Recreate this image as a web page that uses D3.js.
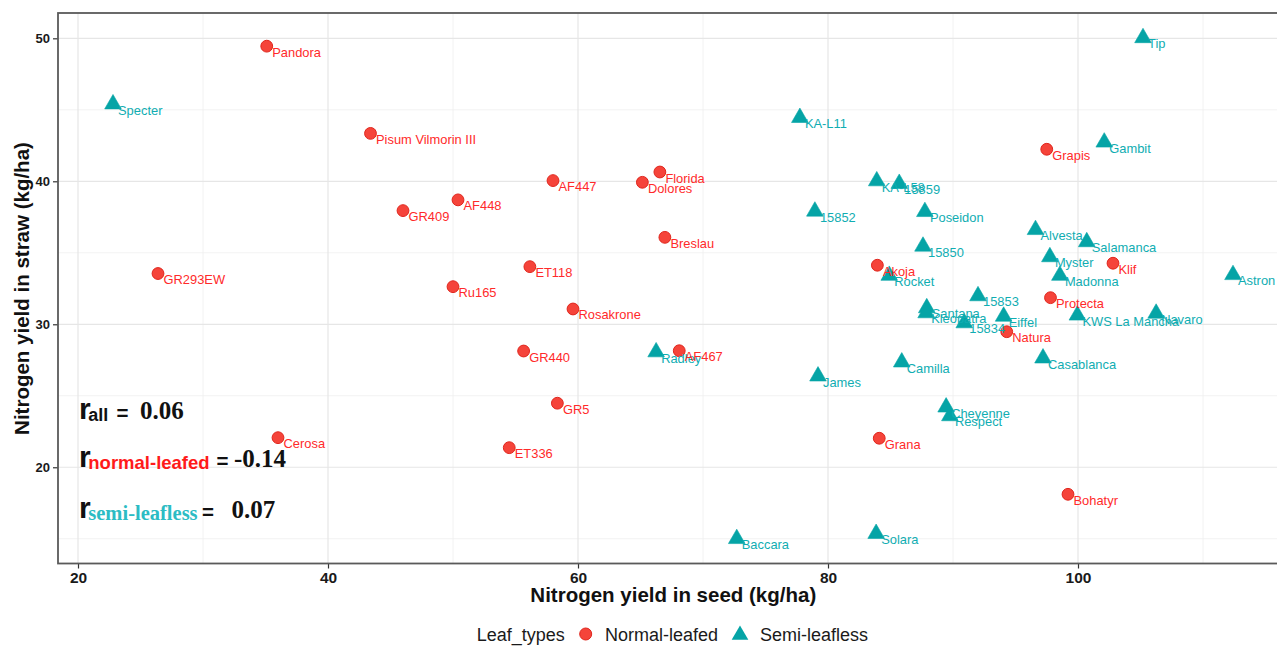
<!DOCTYPE html>
<html>
<head>
<meta charset="utf-8">
<script src="https://cdn.jsdelivr.net/npm/d3@7"></script>
<style>
  html, body { margin: 0; padding: 0; background: #fff; }
  svg { display: block; }
</style>
</head>
<body>
<svg id="chart" width="1277" height="646"></svg>
<script>
// Normal-leafed varieties: nitrogen yield in seed (x) and straw (y), kg/ha
const normalNames = ["Pandora", "Pisum Vilmorin III", "GR293EW", "GR409", "AF448", "AF447",
  "Florida", "Dolores", "Breslau", "ET118", "Ru165", "Rosakrone", "GR440", "AF467", "GR5",
  "ET336", "Cerosa", "Grapis", "Akoja", "Klif", "Protecta", "Natura", "Grana", "Bohatyr"];
const normalSeed = [35.1, 43.4, 26.4, 46.0, 50.4, 58.0, 66.55, 65.15, 66.95, 56.15, 50.0, 59.6,
  55.65, 68.1, 58.35, 54.5, 36.0, 97.5, 83.95, 102.8, 97.8, 94.3, 84.1, 99.2];
const normalStraw = [49.45, 43.35, 33.55, 37.95, 38.7, 40.05, 40.65, 39.93, 36.08, 34.03, 32.63,
  31.07, 28.13, 28.15, 24.48, 21.37, 22.07, 42.24, 34.13, 34.27, 31.86, 29.48, 22.03, 18.11];

// Semi-leafless varieties
const semiNames = ["Specter", "KA-L11", "15852", "Tip", "Gambit", "KA-L58", "15859", "Poseidon",
  "Alvesta", "Salamanca", "15850", "Myster", "Madonna", "Astron", "Rocket", "15853", "Santana",
  "Kleopatra", "Eiffel", "15834", "KWS La Mancha", "Navaro", "Casablanca", "Camilla", "Cheyenne",
  "Respect", "Solara", "Baccara", "Radley", "James"];
const semiSeed = [22.8, 77.75, 78.95, 105.2, 102.1, 83.9, 85.7, 87.75, 96.6, 100.7, 87.6, 97.75,
  98.55, 112.4, 84.9, 92.0, 87.9, 87.85, 94.05, 90.9, 99.95, 106.25, 97.2, 85.9, 89.45, 89.75,
  83.85, 72.7, 66.25, 79.2];
const semiStraw = [45.4, 44.45, 37.9, 50.03, 42.73, 40.02, 39.84, 37.87, 36.61, 35.76, 35.45,
  34.71, 33.41, 33.46, 33.41, 31.98, 31.14, 30.79, 30.55, 30.09, 30.63, 30.76, 27.63, 27.35,
  24.2, 23.59, 15.36, 15.0, 28.06, 26.37];

// Axis ticks
const xTicks = [20, 40, 60, 80, 100];
const xMinor = [30, 50, 70, 90, 110];
const yTicks = [20, 30, 40, 50];
const yMinor = [15, 25, 35, 45];

// Correlation coefficients
const corrGroups = ["all", "normal-leafed", "semi-leafless"];
const corrValues = ["0.06", "-0.14", "0.07"];

// Legend
const legendTitle = "Leaf_types";
const legendLabels = ["Normal-leafed", "Semi-leafless"];

const normal = normalNames.map((n, i) => ({ name: n, x: normalSeed[i], y: normalStraw[i] }));
const semi = semiNames.map((n, i) => ({ name: n, x: semiSeed[i], y: semiStraw[i] }));

const RED = "#f5443a", RED_STROKE = "#e0261d", RED_TEXT = "#ff2a2a";
const TEAL = "#05a4a6", TEAL_TEXT = "#10adb2";

const svg = d3.select("#chart");
const panel = { left: 58, top: 13, right: 1288, bottom: 563.5 };

const x = d3.scaleLinear().domain([18.4, 116.8]).range([panel.left, panel.right]);
const y = d3.scaleLinear().domain([13.27, 51.77]).range([panel.bottom, panel.top]);

svg.append("defs").append("clipPath").attr("id", "panel-clip")
  .append("rect").attr("x", panel.left).attr("y", panel.top)
  .attr("width", panel.right - panel.left).attr("height", panel.bottom - panel.top);

const grid = svg.append("g");
// minor grid
grid.selectAll("line.vmin").data(xMinor).join("line")
  .attr("x1", d => x(d)).attr("x2", d => x(d))
  .attr("y1", panel.top).attr("y2", panel.bottom)
  .attr("stroke", "#efefef").attr("stroke-width", 0.8);
grid.selectAll("line.hmin").data(yMinor).join("line")
  .attr("y1", d => y(d)).attr("y2", d => y(d))
  .attr("x1", panel.left).attr("x2", panel.right)
  .attr("stroke", "#efefef").attr("stroke-width", 0.8);
// major grid
grid.selectAll("line.vmaj").data(xTicks).join("line")
  .attr("x1", d => x(d)).attr("x2", d => x(d))
  .attr("y1", panel.top).attr("y2", panel.bottom)
  .attr("stroke", "#e6e6e6").attr("stroke-width", 1.2);
grid.selectAll("line.hmaj").data(yTicks).join("line")
  .attr("y1", d => y(d)).attr("y2", d => y(d))
  .attr("x1", panel.left).attr("x2", panel.right)
  .attr("stroke", "#e6e6e6").attr("stroke-width", 1.2);

// axes
const xAxis = d3.axisBottom(x).tickValues(xTicks).tickSize(5).tickPadding(3);
const yAxis = d3.axisLeft(y).tickValues(yTicks).tickSize(5).tickPadding(3);

const gx = svg.append("g").attr("transform", `translate(0,${panel.bottom})`).call(xAxis);
gx.select(".domain").remove();
gx.selectAll(".tick line").attr("stroke", "#333").attr("stroke-width", 1.2);
gx.selectAll(".tick text").attr("font-family", "Liberation Sans, Arial, sans-serif")
  .attr("font-weight", "bold").attr("font-size", 15.5).attr("fill", "#1a1a1a").attr("dy", "0.72em");

const gy = svg.append("g").attr("transform", `translate(${panel.left},0)`).call(yAxis);
gy.select(".domain").remove();
gy.selectAll(".tick line").attr("stroke", "#333").attr("stroke-width", 1.2);
gy.selectAll(".tick text").attr("font-family", "Liberation Sans, Arial, sans-serif")
  .attr("font-weight", "bold").attr("font-size", 13).attr("fill", "#1a1a1a");

// points
const plot = svg.append("g").attr("clip-path", "url(#panel-clip)");
const tri = d3.symbol().type(d3.symbolTriangle).size(120);

plot.selectAll("path.semi").data(semi).join("path")
  .attr("transform", d => `translate(${x(d.x)},${y(d.y)})`)
  .attr("d", tri).attr("fill", TEAL).attr("stroke", TEAL).attr("stroke-width", 0.6)
  .attr("stroke-linejoin", "round");

plot.selectAll("circle.normal").data(normal).join("circle")
  .attr("cx", d => x(d.x)).attr("cy", d => y(d.y)).attr("r", 5.9)
  .attr("fill", RED).attr("stroke", RED_STROKE).attr("stroke-width", 1);

// labels
const labelFont = "Liberation Sans, Arial, sans-serif";
plot.selectAll("text.semi").data(semi).join("text")
  .attr("x", d => x(d.x) + 5).attr("y", d => y(d.y) + 10.5)
  .attr("font-family", labelFont).attr("font-size", 12.9).attr("fill", TEAL_TEXT)
  .text(d => d.name);
plot.selectAll("text.normal").data(normal).join("text")
  .attr("x", d => x(d.x) + 5.5).attr("y", d => y(d.y) + 10.5)
  .attr("font-family", labelFont).attr("font-size", 12.9).attr("fill", RED_TEXT)
  .text(d => d.name);

// panel border
svg.append("rect").attr("x", panel.left).attr("y", panel.top)
  .attr("width", panel.right - panel.left).attr("height", panel.bottom - panel.top)
  .attr("fill", "none").attr("stroke", "#5a5a5a").attr("stroke-width", 1.8);

// axis titles
svg.append("text").attr("x", 673.3).attr("y", 601.7).attr("text-anchor", "middle")
  .attr("font-family", labelFont).attr("font-weight", "bold").attr("font-size", 20.5)
  .attr("fill", "#111").text("Nitrogen yield in seed (kg/ha)");
svg.append("text").attr("transform", "translate(29,288.5) rotate(-90)").attr("text-anchor", "middle")
  .attr("font-family", labelFont).attr("font-weight", "bold").attr("font-size", 20.5)
  .attr("fill", "#111").text("Nitrogen yield in straw (kg/ha)");

// correlation annotations
const ann = svg.append("g");
const annRows = [
  { base: 418.5, subColor: "#111", subFont: labelFont, subSize: 18, eqX: 116.5, valX: 140 },
  { base: 467, subColor: "#ff1a1a", subFont: labelFont, subSize: 18.5, eqX: 216.5, valX: 234 },
  { base: 517.5, subColor: "#2cbcc4", subFont: "Liberation Serif, Times New Roman, serif", subSize: 20.5, eqX: 202, valX: 231.5 }
];
annRows.forEach((row, i) => {
  const t = ann.append("text").attr("x", 79).attr("y", row.base)
    .attr("font-family", labelFont).attr("font-weight", "bold");
  t.append("tspan").attr("font-size", 30).attr("fill", "#111").text("r");
  t.append("tspan").attr("x", 88.3).attr("dy", 2).attr("font-family", row.subFont)
    .attr("font-size", row.subSize).attr("fill", row.subColor).text(corrGroups[i]);
  ann.append("text").attr("x", row.eqX).attr("y", row.base + 1)
    .attr("font-family", labelFont).attr("font-weight", "bold").attr("font-size", 20.5)
    .attr("fill", "#111").text("=");
  ann.append("text").attr("x", row.valX).attr("y", row.base)
    .attr("font-family", "Liberation Serif, Times New Roman, serif").attr("font-weight", "bold")
    .attr("font-size", 25).attr("fill", "#111").text(corrValues[i]);
});

// legend
const leg = svg.append("g");
const legBase = 640.5;
leg.append("text").attr("x", 476.7).attr("y", legBase).attr("font-family", labelFont)
  .attr("font-size", 18).attr("fill", "#1a1a1a").text(legendTitle);
leg.append("circle").attr("cx", 585.7).attr("cy", 634).attr("r", 6)
  .attr("fill", RED).attr("stroke", RED_STROKE).attr("stroke-width", 1);
leg.append("text").attr("x", 605).attr("y", legBase).attr("font-family", labelFont)
  .attr("font-size", 18).attr("fill", "#1a1a1a").text(legendLabels[0]);
leg.append("path").attr("transform", "translate(740,635)").attr("d", tri).attr("fill", TEAL);
leg.append("text").attr("x", 760).attr("y", legBase).attr("font-family", labelFont)
  .attr("font-size", 18).attr("fill", "#1a1a1a").text(legendLabels[1]);
</script>
</body>
</html>
